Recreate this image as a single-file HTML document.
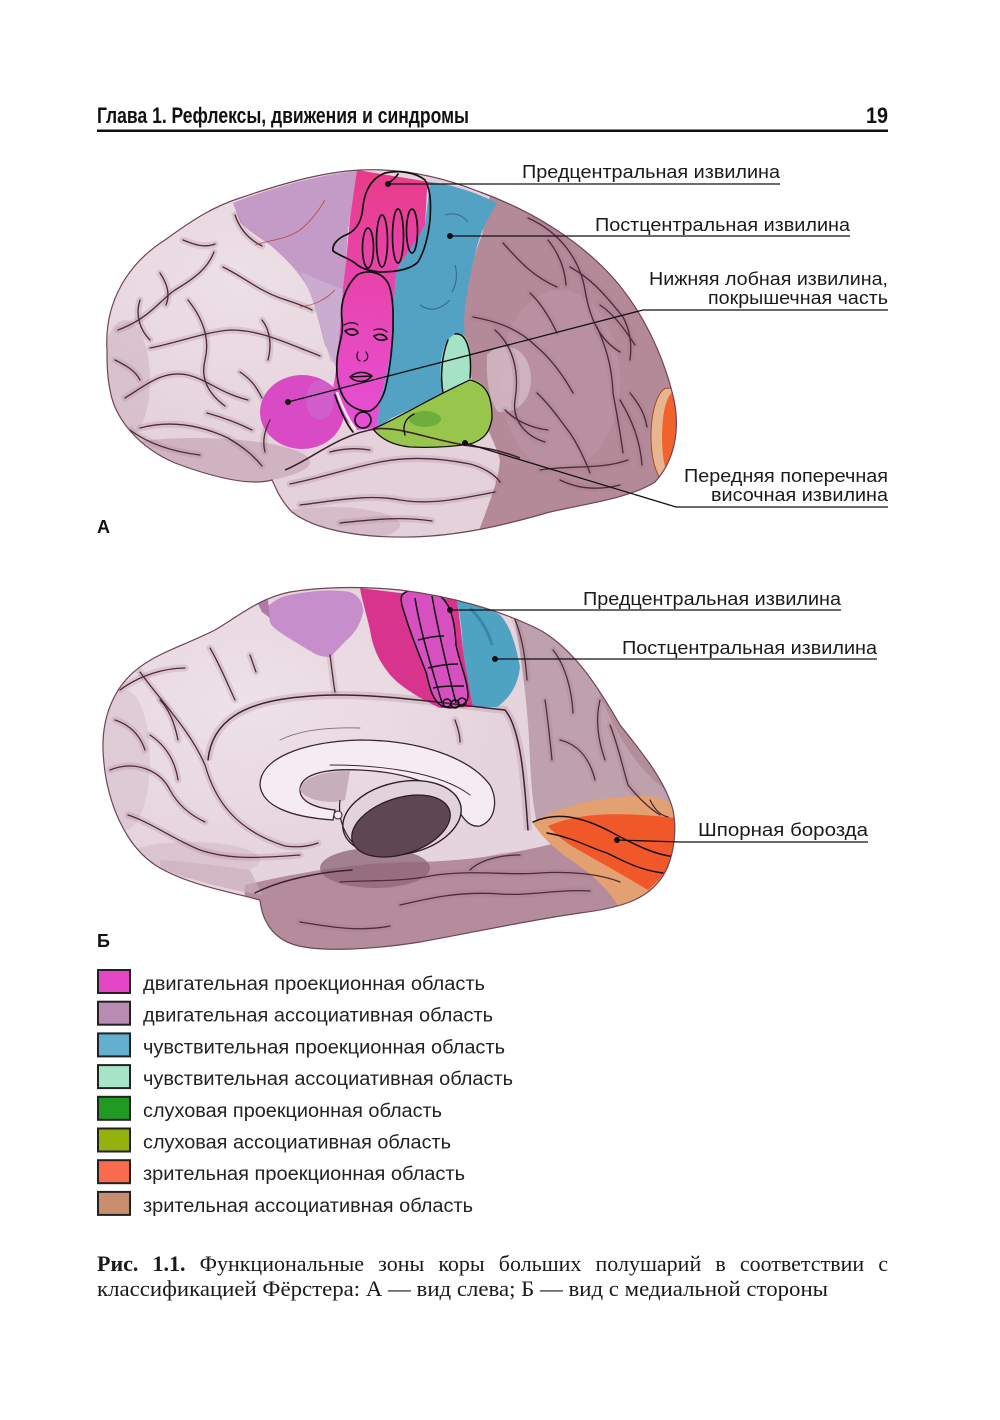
<!DOCTYPE html>
<html><head><meta charset="utf-8">
<style>
html,body{margin:0;padding:0;background:#fff;}
#wrap{position:relative;width:1000px;height:1420px;overflow:hidden;background:#fff;}
svg{position:absolute;left:0;top:0;}
#cap1{position:absolute;left:97px;top:1253px;width:791px;font-family:"Liberation Serif",serif;font-size:22px;line-height:22px;color:#1a1a1a;text-align:justify;text-align-last:justify;white-space:nowrap;}
#cap1 b{font-weight:bold;}
</style></head>
<body><div id="wrap">
<svg width="1000" height="1420" viewBox="0 0 1000 1420" xmlns="http://www.w3.org/2000/svg" xmlns:xlink="http://www.w3.org/1999/xlink">
<defs>
<clipPath id="ca"><path d="M 107,350 C 104,300 130,262 165,240 C 195,218 215,206 240,198 C 275,186 320,172 360,170 C 400,168 440,176 480,192 C 530,210 580,240 615,280 C 645,315 665,360 674,400 C 680,430 675,460 655,482 C 630,498 590,503 550,512 C 505,525 460,536 410,537 C 360,538 315,530 292,512 C 280,500 276,488 272,480 C 250,486 215,478 175,463 C 140,448 115,420 110,390 C 107,375 107,362 107,350 Z"/></clipPath>
<clipPath id="cb"><path d="M 103,750 C 102,715 115,685 140,667 C 160,652 185,645 215,630 C 240,615 260,598 290,592 C 320,587 360,586 400,590 C 450,596 500,610 540,630 C 575,650 600,690 620,725 C 640,750 665,780 673,810 C 678,835 672,865 660,880 C 645,900 620,908 580,913 C 530,920 470,933 420,942 C 370,950 320,952 295,945 C 272,938 262,920 260,900 C 230,892 190,885 160,868 C 125,848 105,800 103,750 Z"/></clipPath>
<linearGradient id="gpink" x1="0" y1="0" x2="0" y2="1">
<stop offset="0" stop-color="#e83c88"/><stop offset="0.35" stop-color="#e842a8"/><stop offset="1" stop-color="#e650d6"/>
</linearGradient>
<radialGradient id="hl" cx="0.35" cy="0.4" r="0.6">
<stop offset="0" stop-color="#f4eaef" stop-opacity="0.6"/><stop offset="1" stop-color="#f4eaef" stop-opacity="0"/>
</radialGradient>
<g id="gyA">
<path d="M 118,330 C 150,318 160,300 175,290 C 195,278 208,268 214,252"/>
<path d="M 150,348 C 180,342 205,332 230,330 C 255,330 275,338 300,348 C 310,352 316,354 320,356"/>
<path d="M 223,267 C 245,278 258,290 280,298 C 295,303 305,306 312,310"/>
<path d="M 125,398 C 150,382 165,370 188,375 C 208,380 220,393 248,400"/>
<path d="M 140,428 C 170,420 200,425 228,438 C 243,447 253,455 262,466"/>
<path d="M 188,300 C 204,320 210,340 205,360 C 200,380 210,395 225,406"/>
<path d="M 240,372 C 252,380 257,388 262,398"/>
<path d="M 160,273 C 168,285 170,295 166,305"/>
<path d="M 183,240 C 195,245 205,248 215,244"/>
<path d="M 207,413 C 225,418 240,424 252,430"/>
<path d="M 130,430 C 150,445 175,452 200,455"/>
<path d="M 140,300 C 135,315 140,330 150,340"/>
<path d="M 235,215 C 240,230 250,240 262,246"/>
<path d="M 262,320 C 270,330 272,345 268,360"/>
<path d="M 115,360 C 125,365 135,370 140,380"/>
<path d="M 270,420 C 265,430 262,440 265,452"/>
<path d="M 290,484 C 320,478 350,468 380,462 C 410,456 440,458 470,464 C 485,468 495,475 500,482"/>
<path d="M 300,505 C 340,500 370,494 400,500 C 430,505 460,499 495,492"/>
<path d="M 340,523 C 370,520 400,516 432,521"/>
<path d="M 330,452 C 345,448 358,448 370,450"/>
<path d="M 503,243 C 517,258 530,275 557,287"/>
<path d="M 528,218 C 560,232 580,260 585,290 C 590,320 600,340 620,352"/>
<path d="M 473,317 C 500,322 520,330 537,347 C 552,360 563,375 573,393"/>
<path d="M 570,267 C 590,278 603,292 623,317 C 630,330 632,345 630,360"/>
<path d="M 530,293 C 540,302 550,318 557,333"/>
<path d="M 597,327 C 605,345 612,365 613,393 C 616,410 620,430 623,453"/>
<path d="M 537,393 C 550,405 560,420 570,433 C 578,445 585,460 590,473"/>
<path d="M 630,393 C 640,405 645,415 647,427"/>
<path d="M 540,470 C 570,465 600,470 628,460"/>
<path d="M 495,330 C 512,345 520,370 515,400 C 512,420 525,436 545,442"/>
<path d="M 505,410 C 515,420 530,428 548,430"/>
<path d="M 560,480 C 580,490 600,490 620,485"/>
<path d="M 620,400 C 632,420 640,440 642,465"/>
<path d="M 548,240 C 560,255 565,270 566,285"/>
<path d="M 600,305 C 615,315 625,330 635,345"/>
</g>
<g id="gyB">
<path d="M 140,672 C 160,700 190,730 205,765 C 215,800 235,830 285,846 C 300,848 310,846 318,843"/>
<path d="M 330,655 C 332,670 333,680 335,692"/>
<path d="M 250,655 L 256,672"/>
<path d="M 210,648 C 220,665 228,685 235,700"/>
<path d="M 120,690 C 140,675 165,668 185,668"/>
<path d="M 110,770 C 135,760 160,770 170,790 C 178,805 190,815 205,822"/>
<path d="M 128,815 C 150,822 175,840 200,850 C 230,860 260,858 300,855"/>
<path d="M 150,735 C 165,745 175,760 178,780"/>
<path d="M 115,720 C 130,725 140,735 145,750"/>
<path d="M 160,700 C 170,710 175,725 178,740"/>
<path d="M 513,615 C 520,630 525,650 527,680"/>
<path d="M 553,650 C 565,665 572,690 573,713"/>
<path d="M 610,725 C 618,745 622,765 628,785 C 640,800 652,810 660,815"/>
<path d="M 560,740 C 580,745 590,760 595,780"/>
<path d="M 340,882 C 370,880 400,882 430,876 C 470,869 510,876 540,873 C 570,871 600,874 620,882"/>
<path d="M 400,905 C 430,898 460,891 500,894 C 530,896 560,889 590,891"/>
<path d="M 300,922 C 330,927 360,932 390,926"/>
<path d="M 455,720 C 458,728 460,735 460,742"/>
<path d="M 470,870 C 480,860 500,855 520,855"/>
<path d="M 600,700 C 595,720 598,740 605,760"/>
<path d="M 545,700 C 548,720 550,740 552,760"/>
</g>
</defs>
<rect width="1000" height="1420" fill="#fff"/>

<!-- HEADER -->
<text x="97" y="123" font-family="'Liberation Sans Narrow','Liberation Sans',sans-serif" font-weight="bold" font-size="22" textLength="372" lengthAdjust="spacingAndGlyphs" fill="#111">Глава 1. Рефлексы, движения и синдромы</text>
<text x="866" y="123" font-family="'Liberation Sans Narrow','Liberation Sans',sans-serif" font-weight="bold" font-size="22" textLength="22" lengthAdjust="spacingAndGlyphs" fill="#111">19</text>
<rect x="97" y="129.5" width="791" height="2.5" fill="#111"/>

<!-- ============ BRAIN A ============ -->
<g clip-path="url(#ca)">
<rect x="100" y="160" width="590" height="390" fill="#e4d1da"/>
<rect x="100" y="160" width="400" height="300" fill="url(#hl)"/>
<ellipse cx="195" cy="462" rx="115" ry="24" fill="#c4a3b2" opacity="0.65"/>
<ellipse cx="125" cy="380" rx="25" ry="60" fill="#cfb6c2" opacity="0.6"/>
<ellipse cx="330" cy="525" rx="70" ry="18" fill="#c9abb9" opacity="0.55"/>
<!-- mauve parietal/occipital -->
<path d="M 490,195 L 700,195 L 700,560 L 470,560 C 480,520 498,490 500,460 C 495,440 480,420 472,380 C 466,350 462,330 463,310 C 466,285 472,260 482,235 Z" fill="#b48a99"/>
<ellipse cx="560" cy="380" rx="60" ry="90" fill="#c09cab" opacity="0.35"/>
<path d="M 487,355 C 500,340 525,345 530,370 C 535,395 520,415 498,412 C 488,400 486,375 487,355 Z" fill="#d3bac5" opacity="0.8"/>
<!-- motor association purple -->
<path d="M 233,203 C 260,192 310,176 357,171 L 348,230 L 344,290 L 338,370 C 332,360 328,350 325,345 C 320,325 316,310 310,292 C 300,272 285,258 270,245 C 255,235 245,228 240,222 Z" fill="#c49ac6"/>
<path d="M 300,272 C 315,300 322,330 330,360 L 340,368 L 344,290 Z" fill="#cfb4d6" opacity="0.7"/>
<!-- shadows of sulci -->
<use xlink:href="#gyA" href="#gyA" fill="none" stroke="#a07888" stroke-width="7" stroke-opacity="0.22" stroke-linecap="round"/>
<!-- motor projection pink strip -->
<path d="M 357,170 L 430,182 L 427,190 L 425,225 C 415,245 403,258 397,270 C 394,290 393,315 393,335 C 390,360 384,385 380,401 L 377,428 L 357,430 C 345,420 335,410 330,401 C 334,385 337,368 337,355 C 340,335 342,305 343,288 C 346,265 348,240 350,218 Z" fill="url(#gpink)"/>
<!-- Broca -->
<ellipse cx="302" cy="412" rx="42" ry="37" fill="#d94bc4"/>
<ellipse cx="320" cy="400" rx="14" ry="20" fill="#c080d8" opacity="0.35"/>
<!-- blue sensory -->
<path d="M 430,182 C 450,184 475,192 497,203 C 490,215 484,225 480,237 C 474,255 470,275 466,300 C 463,320 464,335 466,345 C 460,336 452,334 448,340 C 442,355 440,375 442,393 C 425,402 405,412 392,418 L 377,428 L 380,401 C 384,385 390,360 393,335 C 393,315 394,290 397,270 C 403,258 415,245 425,225 Z" fill="#53a1c3"/>
<path d="M 440,395 C 420,405 400,415 380,428 L 420,430 Z" fill="#4a8cb0" opacity="0.5"/>
<g fill="none" stroke="#2d5f80" stroke-width="1.1" opacity="0.8">
<path d="M 445,215 C 455,212 462,215 468,222"/>
<path d="M 420,305 C 430,312 440,310 450,300"/>
<path d="M 455,265 C 458,275 456,285 452,292"/>
</g>
<!-- light green -->
<path d="M 443,393 C 438,370 440,342 455,334 C 469,330 473,352 470,378 L 466,392 Z" fill="#a5e2c6"/>
<!-- yellow-green -->
<path d="M 373,429 C 385,423 400,416 420,405 C 440,395 460,384 475,380 C 486,384 492,395 492,418 C 490,432 484,440 470,444 C 450,447 430,448 410,447 C 392,445 380,438 373,429 Z" fill="#98c64c"/>
<ellipse cx="425" cy="419" rx="16" ry="8" fill="#4c9a34" opacity="0.55"/>
<!-- visual occipital pole -->
<ellipse cx="668" cy="436" rx="17" ry="48" fill="#e7b690" stroke="#a84a26" stroke-width="1"/>
<ellipse cx="674" cy="437" rx="12" ry="45" fill="#f2622c"/>
<!-- gyri lines -->
<use xlink:href="#gyA" href="#gyA" fill="none" stroke="#4e2a3a" stroke-width="1.35" stroke-linecap="round"/>
<path d="M 285,470 C 310,460 340,434 375,429 C 400,426 430,440 470,446 C 490,448 505,452 520,458" fill="none" stroke="#3e2230" stroke-width="1.6"/>
<g fill="none" stroke="#b0302c" stroke-width="0.9" opacity="0.7">
<path d="M 255,245 C 270,240 285,240 300,230 C 310,222 318,212 325,200"/>
<path d="M 300,307 C 315,305 325,300 335,290"/>
</g>
<path d="M 337,392 C 342,408 350,422 356,430" stroke="#f5eef2" stroke-width="2.5" fill="none"/>
</g>
<path d="M 107,350 C 104,300 130,262 165,240 C 195,218 215,206 240,198 C 275,186 320,172 360,170 C 400,168 440,176 480,192 C 530,210 580,240 615,280 C 645,315 665,360 674,400 C 680,430 675,460 655,482 C 630,498 590,503 550,512 C 505,525 460,536 410,537 C 360,538 315,530 292,512 C 280,500 276,488 272,480 C 250,486 215,478 175,463 C 140,448 115,420 110,390 C 107,375 107,362 107,350 Z" fill="none" stroke="#6e4558" stroke-width="1.2"/>

<!-- homunculus A -->
<g fill="none" stroke="#111" stroke-width="1.7" stroke-linejoin="round" stroke-linecap="round">
<path d="M 333,251 C 332,244 338,238 348,234 C 356,230 362,222 363,206 C 365,190 372,178 385,173 C 398,170 415,172 425,180 C 431,190 431,205 430,220 C 428,238 424,252 418,262 C 410,270 395,272 380,272 C 368,271 360,268 355,263 C 348,258 340,256 333,251 Z"/>
<ellipse cx="368" cy="248" rx="5.5" ry="20"/>
<ellipse cx="382" cy="241" rx="5.5" ry="26"/>
<ellipse cx="398" cy="236" rx="5.5" ry="27"/>
<ellipse cx="412" cy="231" rx="5.5" ry="22"/>
<path d="M 388,184 C 392,180 396,178 398,174"/>
<path d="M 357,275 C 366,270 382,270 389,285 C 394,300 393,315 393,330 C 392,350 390,370 385,390 C 381,402 376,408 370,411 C 362,412 352,408 346,401 C 338,390 336,375 337,360 C 338,345 344,335 342,320 C 340,305 344,288 357,275 Z"/>
<path d="M 345,331 C 350,328 356,328 358,333 C 354,336 349,336 345,331 Z"/>
<path d="M 374,336 C 379,333 385,334 387,339 C 382,341 377,341 374,336 Z"/>
<path d="M 344,325 C 349,322 355,322 358,325" stroke-width="1.2"/>
<path d="M 374,330 C 379,328 384,329 387,332" stroke-width="1.2"/>
<path d="M 358,352 C 356,356 357,360 360,361 M 366,352 C 369,356 368,360 364,361" stroke-width="1.2"/>
<path d="M 350,377 C 356,371 366,371 372,376 C 366,383 356,383 350,377 Z M 350,377 L 372,376" stroke-width="1.4"/>
<circle cx="363" cy="420" r="8"/>
<path d="M 335,395 C 340,410 347,425 353,432"/>
<path d="M 448,340 C 442,355 440,375 443,393 M 470,378 C 472,355 468,332 455,334" stroke-width="1.5"/>
<path d="M 373,429 C 395,420 430,398 470,380 C 486,384 492,395 492,418 C 490,432 484,440 470,444 C 450,447 430,448 410,447 C 392,445 380,438 373,429" stroke-width="1.3"/>
<path d="M 405,435 C 402,425 406,418 414,414" stroke-width="1.4"/>
</g>

<!-- leader lines A -->
<g stroke="#111" stroke-width="1.3" fill="none">
<path d="M 388,184 H 780"/>
<path d="M 450,236 H 850"/>
<path d="M 288,402 L 643,310 H 888"/>
<path d="M 465,443 L 676,507 H 888"/>
</g>
<g fill="#111">
<circle cx="388" cy="184" r="3"/><circle cx="450" cy="236" r="3"/><circle cx="288" cy="402" r="3"/><circle cx="465" cy="443" r="3"/>
</g>
<g font-family="'Liberation Sans',sans-serif" font-size="18.5" fill="#1a1a1a">
<text x="522" y="178" textLength="258" lengthAdjust="spacingAndGlyphs">Предцентральная извилина</text>
<text x="595" y="231" textLength="255" lengthAdjust="spacingAndGlyphs">Постцентральная извилина</text>
<text x="649" y="285" textLength="239" lengthAdjust="spacingAndGlyphs">Нижняя лобная извилина,</text>
<text x="708" y="304" textLength="180" lengthAdjust="spacingAndGlyphs">покрышечная часть</text>
<text x="684" y="482" textLength="204" lengthAdjust="spacingAndGlyphs">Передняя поперечная</text>
<text x="711" y="501" textLength="177" lengthAdjust="spacingAndGlyphs">височная извилина</text>
</g>
<text x="97" y="533" font-family="'Liberation Sans',sans-serif" font-weight="bold" font-size="18" fill="#111">А</text>

<!-- ============ BRAIN Б ============ -->
<g clip-path="url(#cb)">
<rect x="95" y="580" width="600" height="380" fill="#e6d4dd"/>
<rect x="100" y="600" width="420" height="260" fill="url(#hl)"/>
<path d="M 512,605 C 520,650 528,700 530,760 C 532,800 535,820 540,832 L 700,832 L 700,580 Z" fill="#bfa0ad"/>
<path d="M 585,660 C 610,720 630,770 680,800 L 700,800 L 700,620 Z" fill="#b08796" opacity="0.75"/>
<path d="M 245,885 C 300,872 360,862 420,862 C 480,860 520,852 560,842 L 620,850 L 700,850 L 700,980 L 240,980 Z" fill="#b48c9b"/>
<path d="M 160,868 C 190,880 230,890 262,895 L 250,870 C 220,866 190,862 160,860 Z" fill="#c9abb9" opacity="0.7"/>
<ellipse cx="375" cy="868" rx="55" ry="20" fill="#8c6474" opacity="0.75"/>
<ellipse cx="125" cy="760" rx="25" ry="70" fill="#d6bfca" opacity="0.55"/>
<ellipse cx="190" cy="860" rx="70" ry="18" fill="#d0b5c2" opacity="0.5"/>
<use xlink:href="#gyB" href="#gyB" fill="none" stroke="#a07888" stroke-width="7" stroke-opacity="0.22" stroke-linecap="round"/>
<path d="M 208,760 C 212,720 245,702 300,697 C 360,690 440,703 505,710 C 522,730 525,790 528,830" fill="none" stroke="#a07888" stroke-width="8" stroke-opacity="0.25"/>
<!-- purple motor assoc -->
<path d="M 267,607 C 275,600 280,597 290,595 C 310,591 330,589 350,592 C 360,596 364,605 363,613 C 360,625 355,632 350,637 C 340,646 335,653 330,657 C 322,657 316,655 312,652 C 300,645 292,640 287,637 C 280,632 272,628 270,622 Z" fill="#c68fcc"/>
<path d="M 257,602 L 268,600 L 270,618 L 262,612 Z" fill="#b07aa8"/>
<!-- pink motor strip -->
<path d="M 360,588 L 457,600 C 460,620 462,640 463,650 C 466,670 470,690 473,707 L 440,708 C 425,701 405,690 393,678 C 381,665 373,650 370,630 C 366,612 362,600 360,588 Z" fill="#d8348e"/>
<!-- blue -->
<path d="M 457,600 C 475,604 490,609 500,615 C 510,625 516,645 520,667 C 518,685 510,698 497,707 L 473,707 C 470,690 466,670 463,650 C 462,630 460,615 457,600 Z" fill="#4ea2c2"/>
<path d="M 470,608 C 480,618 488,630 492,645" stroke="#2f6f9a" stroke-width="3" fill="none" opacity="0.6"/>
<!-- leg homunculus fill -->
<path d="M 402,595 C 408,588 425,588 440,596 C 452,605 455,625 456,645 C 460,665 468,680 468,697 C 466,707 452,710 442,706 C 432,700 430,688 426,672 C 418,652 410,632 405,615 C 402,606 400,600 402,595 Z" fill="#d650c0"/>
<!-- orange visual -->
<path d="M 533,823 C 560,805 600,797 640,796 C 655,796 668,800 676,808 L 676,840 C 672,865 662,885 640,900 L 620,910 C 612,892 590,872 565,856 C 552,846 540,835 533,823 Z" fill="#e3a070"/>
<path d="M 548,826 C 580,812 620,812 676,818 L 676,850 C 670,868 660,880 648,890 C 628,878 600,862 575,848 C 562,840 553,832 548,826 Z" fill="#f0582a"/>
<!-- corpus callosum -->
<path d="M 333,820 C 290,817 262,806 260,785 C 260,760 298,742 360,740 C 420,740 470,758 490,785 C 498,800 496,820 480,826 C 468,828 460,815 455,802 C 440,785 405,772 360,770 C 320,768 300,776 300,790 C 300,802 316,808 335,810 Z" fill="#f4ecf0" stroke="#3a2430" stroke-width="1.3"/>
<path d="M 300,790 C 300,780 318,771 350,771 L 345,800 C 330,805 305,800 300,790 Z" fill="#c7aebb"/>
<ellipse cx="402" cy="818" rx="60" ry="36" transform="rotate(-12 402 818)" fill="#e2d3da" stroke="#2e1e26" stroke-width="1.4"/>
<ellipse cx="401" cy="826" rx="51" ry="28" transform="rotate(-18 401 826)" fill="#5e4750" stroke="#2a1a22" stroke-width="1.2"/>
<path d="M 340,800 C 338,815 342,830 352,842" stroke="#2e1e26" stroke-width="1.2" fill="none"/>
<circle cx="338" cy="815" r="4" fill="#f4ecf0" stroke="#2e1e26" stroke-width="1"/>
<!-- gyri lines Б -->
<use xlink:href="#gyB" href="#gyB" fill="none" stroke="#4e2a3a" stroke-width="1.3" stroke-linecap="round"/>
<g fill="none" stroke="#3e2230" stroke-linecap="round">
<path d="M 208,760 C 212,720 245,702 300,697 C 360,690 440,703 505,710 C 522,730 525,790 528,830" stroke-width="1.5"/>
<path d="M 255,893 C 280,880 320,872 352,870" stroke-width="1.5"/>
<path d="M 533,822 C 555,812 580,815 613,833 C 635,845 655,855 676,857" stroke="#1a1014" stroke-width="1.5"/>
<path d="M 547,833 C 575,838 590,848 607,853 C 625,862 640,870 663,873" stroke="#1a1014" stroke-width="1.4"/>
<path d="M 650,800 C 655,810 660,815 668,817" stroke-width="1.2"/>
<path d="M 330,765 C 380,765 440,772 470,795" stroke-width="0.9"/>
<path d="M 280,740 C 300,730 330,727 360,728" stroke-width="0.9" opacity="0.6"/>
</g>
<g fill="none" stroke="#111" stroke-width="1.5" stroke-linejoin="round">
<path d="M 402,595 C 408,588 425,588 440,596 C 452,605 455,625 456,645 C 460,665 468,680 468,697 C 466,707 452,710 442,706 C 432,700 430,688 426,672 C 418,652 410,632 405,615 C 402,606 400,600 402,595 Z"/>
<path d="M 415,598 C 420,630 430,662 442,703"/>
<path d="M 432,596 C 437,625 445,660 456,703"/>
<path d="M 418,640 C 426,638 434,636 444,636 M 428,668 C 436,666 446,664 458,664 M 433,688 C 442,686 452,686 464,686"/>
<circle cx="447" cy="703" r="4"/><circle cx="455" cy="704" r="4"/><circle cx="462" cy="702" r="4"/>
</g>
</g>
<path d="M 103,750 C 102,715 115,685 140,667 C 160,652 185,645 215,630 C 240,615 260,598 290,592 C 320,587 360,586 400,590 C 450,596 500,610 540,630 C 575,650 600,690 620,725 C 640,750 665,780 673,810 C 678,835 672,865 660,880 C 645,900 620,908 580,913 C 530,920 470,933 420,942 C 370,950 320,952 295,945 C 272,938 262,920 260,900 C 230,892 190,885 160,868 C 125,848 105,800 103,750 Z" fill="none" stroke="#6e4558" stroke-width="1.2"/>

<!-- leader lines Б -->
<g stroke="#111" stroke-width="1.3" fill="none">
<path d="M 450,610 H 841"/>
<path d="M 495,659 H 877"/>
<path d="M 617,840 L 680,842 H 868"/>
</g>
<g fill="#111"><circle cx="450" cy="610" r="3"/><circle cx="495" cy="659" r="3"/><circle cx="617" cy="840" r="3"/></g>
<g font-family="'Liberation Sans',sans-serif" font-size="18.5" fill="#1a1a1a">
<text x="583" y="605" textLength="258" lengthAdjust="spacingAndGlyphs">Предцентральная извилина</text>
<text x="622" y="654" textLength="255" lengthAdjust="spacingAndGlyphs">Постцентральная извилина</text>
<text x="698" y="836" textLength="170" lengthAdjust="spacingAndGlyphs">Шпорная борозда</text>
</g>
<text x="97" y="947" font-family="'Liberation Sans',sans-serif" font-weight="bold" font-size="18" fill="#111">Б</text>

<!-- LEGEND -->
<g stroke="#222" stroke-width="2">
<rect x="98" y="970" width="32" height="23" fill="#e546c6"/>
<rect x="98" y="1001.7" width="32" height="23" fill="#b98cb4"/>
<rect x="98" y="1033.4" width="32" height="23" fill="#62afcf"/>
<rect x="98" y="1065.1" width="32" height="23" fill="#a8e4c8"/>
<rect x="98" y="1096.8" width="32" height="23" fill="#209a20"/>
<rect x="98" y="1128.5" width="32" height="23" fill="#93b20e"/>
<rect x="98" y="1160.2" width="32" height="23" fill="#f96a4f"/>
<rect x="98" y="1191.9" width="32" height="23" fill="#c98d6f"/>
</g>
<g font-family="'Liberation Sans',sans-serif" font-size="19" fill="#222">
<text x="143" y="990" textLength="342" lengthAdjust="spacingAndGlyphs">двигательная проекционная область</text>
<text x="143" y="1021.7" textLength="350" lengthAdjust="spacingAndGlyphs">двигательная ассоциативная область</text>
<text x="143" y="1053.4" textLength="362" lengthAdjust="spacingAndGlyphs">чувствительная проекционная область</text>
<text x="143" y="1085.1" textLength="370" lengthAdjust="spacingAndGlyphs">чувствительная ассоциативная область</text>
<text x="143" y="1116.8" textLength="299" lengthAdjust="spacingAndGlyphs">слуховая проекционная область</text>
<text x="143" y="1148.5" textLength="308" lengthAdjust="spacingAndGlyphs">слуховая ассоциативная область</text>
<text x="143" y="1180.2" textLength="322" lengthAdjust="spacingAndGlyphs">зрительная проекционная область</text>
<text x="143" y="1211.9" textLength="330" lengthAdjust="spacingAndGlyphs">зрительная ассоциативная область</text>
</g>

<text x="97" y="1296" font-family="'Liberation Serif',serif" font-size="22" fill="#1a1a1a" textLength="731" lengthAdjust="spacingAndGlyphs">классификацией Фёрстера: А — вид слева; Б — вид с медиальной стороны</text>
</svg>
<div id="cap1"><b>Рис. 1.1.</b> Функциональные зоны коры больших полушарий в соответствии с</div>
</div></body></html>
